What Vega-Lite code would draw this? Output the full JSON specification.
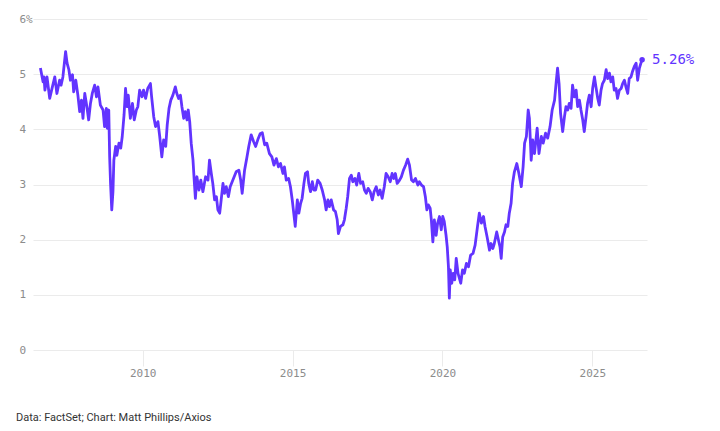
{
  "$schema": "https://vega.github.io/schema/vega-lite/v6.json",
  "width": 614,
  "height": 331,
  "autosize": {"type": "none"},
  "padding": {"left": 33, "top": 19, "right": 73, "bottom": 81},
  "background": "white",
  "title": {
    "text": "Data: FactSet; Chart: Matt Phillips/Axios",
    "orient": "bottom",
    "anchor": "start",
    "frame": "group",
    "dx": -17,
    "offset": 34,
    "font": "Roboto",
    "fontSize": 11,
    "fontWeight": "normal",
    "color": "#333333"
  },
  "data": {
    "values": [
      {"year": 2006.59, "yield": 5.11}, {"year": 2006.68, "yield": 4.86}, {"year": 2006.71, "yield": 4.95},
      {"year": 2006.74, "yield": 4.71}, {"year": 2006.81, "yield": 4.95}, {"year": 2006.90, "yield": 4.56},
      {"year": 2006.99, "yield": 4.77}, {"year": 2007.07, "yield": 4.95}, {"year": 2007.14, "yield": 4.65},
      {"year": 2007.23, "yield": 4.89}, {"year": 2007.28, "yield": 4.80}, {"year": 2007.34, "yield": 4.95},
      {"year": 2007.43, "yield": 5.41}, {"year": 2007.48, "yield": 5.20}, {"year": 2007.54, "yield": 5.08},
      {"year": 2007.59, "yield": 4.89}, {"year": 2007.66, "yield": 4.99}, {"year": 2007.70, "yield": 4.68},
      {"year": 2007.77, "yield": 4.89}, {"year": 2007.84, "yield": 4.62}, {"year": 2007.90, "yield": 4.32},
      {"year": 2007.96, "yield": 4.53}, {"year": 2008.01, "yield": 4.20}, {"year": 2008.07, "yield": 4.65},
      {"year": 2008.14, "yield": 4.41}, {"year": 2008.20, "yield": 4.17}, {"year": 2008.26, "yield": 4.47},
      {"year": 2008.32, "yield": 4.65}, {"year": 2008.40, "yield": 4.80}, {"year": 2008.46, "yield": 4.59},
      {"year": 2008.51, "yield": 4.77}, {"year": 2008.59, "yield": 4.44}, {"year": 2008.68, "yield": 4.35},
      {"year": 2008.73, "yield": 4.05}, {"year": 2008.79, "yield": 4.38}, {"year": 2008.82, "yield": 4.02},
      {"year": 2008.87, "yield": 4.35}, {"year": 2008.90, "yield": 3.50}, {"year": 2008.93, "yield": 3.02},
      {"year": 2008.97, "yield": 2.54}, {"year": 2009.01, "yield": 2.87}, {"year": 2009.04, "yield": 3.44},
      {"year": 2009.10, "yield": 3.69}, {"year": 2009.14, "yield": 3.53}, {"year": 2009.21, "yield": 3.75},
      {"year": 2009.27, "yield": 3.66}, {"year": 2009.32, "yield": 3.87}, {"year": 2009.38, "yield": 4.26},
      {"year": 2009.43, "yield": 4.74}, {"year": 2009.48, "yield": 4.41}, {"year": 2009.52, "yield": 4.62},
      {"year": 2009.59, "yield": 4.20}, {"year": 2009.66, "yield": 4.47}, {"year": 2009.72, "yield": 4.17},
      {"year": 2009.79, "yield": 4.35}, {"year": 2009.84, "yield": 4.41}, {"year": 2009.90, "yield": 4.71},
      {"year": 2009.98, "yield": 4.59}, {"year": 2010.03, "yield": 4.71}, {"year": 2010.10, "yield": 4.56},
      {"year": 2010.17, "yield": 4.74}, {"year": 2010.26, "yield": 4.83}, {"year": 2010.30, "yield": 4.59},
      {"year": 2010.37, "yield": 4.23}, {"year": 2010.43, "yield": 4.05}, {"year": 2010.51, "yield": 4.14},
      {"year": 2010.57, "yield": 3.87}, {"year": 2010.64, "yield": 3.50}, {"year": 2010.70, "yield": 3.81},
      {"year": 2010.77, "yield": 3.69}, {"year": 2010.82, "yield": 4.08}, {"year": 2010.88, "yield": 4.38},
      {"year": 2010.94, "yield": 4.53}, {"year": 2011.01, "yield": 4.62}, {"year": 2011.09, "yield": 4.77},
      {"year": 2011.14, "yield": 4.65}, {"year": 2011.20, "yield": 4.56}, {"year": 2011.26, "yield": 4.62},
      {"year": 2011.31, "yield": 4.41}, {"year": 2011.37, "yield": 4.20}, {"year": 2011.42, "yield": 4.32},
      {"year": 2011.48, "yield": 4.17}, {"year": 2011.52, "yield": 4.35}, {"year": 2011.57, "yield": 4.14},
      {"year": 2011.62, "yield": 3.75}, {"year": 2011.68, "yield": 3.44}, {"year": 2011.72, "yield": 3.08},
      {"year": 2011.76, "yield": 2.75}, {"year": 2011.81, "yield": 3.14}, {"year": 2011.88, "yield": 2.90},
      {"year": 2011.94, "yield": 3.08}, {"year": 2012.01, "yield": 2.87}, {"year": 2012.10, "yield": 3.14},
      {"year": 2012.18, "yield": 3.08}, {"year": 2012.23, "yield": 3.44}, {"year": 2012.29, "yield": 3.20},
      {"year": 2012.34, "yield": 3.02}, {"year": 2012.40, "yield": 2.72}, {"year": 2012.46, "yield": 2.78},
      {"year": 2012.51, "yield": 2.54}, {"year": 2012.57, "yield": 2.48}, {"year": 2012.62, "yield": 2.72},
      {"year": 2012.68, "yield": 3.02}, {"year": 2012.73, "yield": 2.84}, {"year": 2012.79, "yield": 2.96},
      {"year": 2012.86, "yield": 2.78}, {"year": 2012.92, "yield": 2.96}, {"year": 2013.01, "yield": 3.08},
      {"year": 2013.12, "yield": 3.23}, {"year": 2013.21, "yield": 3.26}, {"year": 2013.27, "yield": 3.08},
      {"year": 2013.32, "yield": 2.84}, {"year": 2013.40, "yield": 3.26}, {"year": 2013.48, "yield": 3.50},
      {"year": 2013.54, "yield": 3.69}, {"year": 2013.62, "yield": 3.90}, {"year": 2013.70, "yield": 3.78},
      {"year": 2013.77, "yield": 3.69}, {"year": 2013.84, "yield": 3.81}, {"year": 2013.92, "yield": 3.92},
      {"year": 2013.99, "yield": 3.94}, {"year": 2014.07, "yield": 3.72}, {"year": 2014.14, "yield": 3.75},
      {"year": 2014.23, "yield": 3.56}, {"year": 2014.31, "yield": 3.50}, {"year": 2014.38, "yield": 3.35},
      {"year": 2014.46, "yield": 3.47}, {"year": 2014.53, "yield": 3.32}, {"year": 2014.60, "yield": 3.38},
      {"year": 2014.68, "yield": 3.20}, {"year": 2014.73, "yield": 3.32}, {"year": 2014.79, "yield": 3.08},
      {"year": 2014.87, "yield": 3.11}, {"year": 2014.93, "yield": 2.96}, {"year": 2014.99, "yield": 2.72},
      {"year": 2015.04, "yield": 2.48}, {"year": 2015.09, "yield": 2.24}, {"year": 2015.16, "yield": 2.72},
      {"year": 2015.21, "yield": 2.48}, {"year": 2015.27, "yield": 2.66}, {"year": 2015.32, "yield": 2.75},
      {"year": 2015.38, "yield": 3.02}, {"year": 2015.43, "yield": 3.20}, {"year": 2015.50, "yield": 3.23},
      {"year": 2015.54, "yield": 3.02}, {"year": 2015.60, "yield": 2.87}, {"year": 2015.66, "yield": 3.05},
      {"year": 2015.71, "yield": 2.90}, {"year": 2015.77, "yield": 2.90}, {"year": 2015.84, "yield": 3.08},
      {"year": 2015.92, "yield": 3.02}, {"year": 2015.99, "yield": 2.90}, {"year": 2016.07, "yield": 2.72},
      {"year": 2016.12, "yield": 2.54}, {"year": 2016.18, "yield": 2.72}, {"year": 2016.23, "yield": 2.60},
      {"year": 2016.29, "yield": 2.72}, {"year": 2016.37, "yield": 2.54}, {"year": 2016.43, "yield": 2.51},
      {"year": 2016.49, "yield": 2.36}, {"year": 2016.53, "yield": 2.11}, {"year": 2016.60, "yield": 2.24},
      {"year": 2016.68, "yield": 2.27}, {"year": 2016.73, "yield": 2.36}, {"year": 2016.79, "yield": 2.57},
      {"year": 2016.84, "yield": 2.78}, {"year": 2016.90, "yield": 3.11}, {"year": 2016.96, "yield": 3.17},
      {"year": 2017.01, "yield": 3.05}, {"year": 2017.08, "yield": 3.11}, {"year": 2017.14, "yield": 2.99},
      {"year": 2017.21, "yield": 3.20}, {"year": 2017.27, "yield": 3.02}, {"year": 2017.34, "yield": 3.05},
      {"year": 2017.40, "yield": 2.90}, {"year": 2017.46, "yield": 2.84}, {"year": 2017.52, "yield": 2.93},
      {"year": 2017.59, "yield": 2.87}, {"year": 2017.66, "yield": 2.72}, {"year": 2017.72, "yield": 2.87},
      {"year": 2017.79, "yield": 2.96}, {"year": 2017.86, "yield": 2.81}, {"year": 2017.92, "yield": 2.90},
      {"year": 2017.99, "yield": 2.75}, {"year": 2018.06, "yield": 2.96}, {"year": 2018.12, "yield": 3.20},
      {"year": 2018.19, "yield": 3.14}, {"year": 2018.26, "yield": 3.05}, {"year": 2018.32, "yield": 3.20},
      {"year": 2018.38, "yield": 3.11}, {"year": 2018.43, "yield": 3.20}, {"year": 2018.49, "yield": 3.02},
      {"year": 2018.57, "yield": 3.08}, {"year": 2018.63, "yield": 3.14}, {"year": 2018.70, "yield": 3.26},
      {"year": 2018.77, "yield": 3.35}, {"year": 2018.84, "yield": 3.46}, {"year": 2018.90, "yield": 3.35},
      {"year": 2018.97, "yield": 3.08}, {"year": 2019.03, "yield": 3.05}, {"year": 2019.10, "yield": 3.11},
      {"year": 2019.18, "yield": 2.99}, {"year": 2019.23, "yield": 3.05}, {"year": 2019.30, "yield": 2.99},
      {"year": 2019.37, "yield": 2.96}, {"year": 2019.43, "yield": 2.78}, {"year": 2019.48, "yield": 2.54},
      {"year": 2019.53, "yield": 2.63}, {"year": 2019.59, "yield": 2.57}, {"year": 2019.63, "yield": 2.36},
      {"year": 2019.68, "yield": 1.96}, {"year": 2019.73, "yield": 2.36}, {"year": 2019.79, "yield": 2.08},
      {"year": 2019.84, "yield": 2.30}, {"year": 2019.90, "yield": 2.42}, {"year": 2019.96, "yield": 2.18},
      {"year": 2020.01, "yield": 2.42}, {"year": 2020.06, "yield": 2.33}, {"year": 2020.12, "yield": 2.08},
      {"year": 2020.16, "yield": 1.87}, {"year": 2020.20, "yield": 1.51}, {"year": 2020.23, "yield": 0.94},
      {"year": 2020.26, "yield": 1.45}, {"year": 2020.31, "yield": 1.21}, {"year": 2020.36, "yield": 1.39},
      {"year": 2020.41, "yield": 1.27}, {"year": 2020.46, "yield": 1.66}, {"year": 2020.52, "yield": 1.39},
      {"year": 2020.61, "yield": 1.21}, {"year": 2020.67, "yield": 1.45}, {"year": 2020.73, "yield": 1.39},
      {"year": 2020.80, "yield": 1.57}, {"year": 2020.87, "yield": 1.51}, {"year": 2020.94, "yield": 1.72},
      {"year": 2021.02, "yield": 1.75}, {"year": 2021.09, "yield": 1.90}, {"year": 2021.17, "yield": 2.24},
      {"year": 2021.23, "yield": 2.48}, {"year": 2021.30, "yield": 2.30}, {"year": 2021.37, "yield": 2.42},
      {"year": 2021.42, "yield": 2.24}, {"year": 2021.49, "yield": 2.05}, {"year": 2021.57, "yield": 1.81},
      {"year": 2021.62, "yield": 1.93}, {"year": 2021.68, "yield": 1.84}, {"year": 2021.73, "yield": 1.93},
      {"year": 2021.81, "yield": 2.14}, {"year": 2021.87, "yield": 1.99}, {"year": 2021.92, "yield": 1.87},
      {"year": 2021.96, "yield": 1.66}, {"year": 2022.01, "yield": 2.05}, {"year": 2022.07, "yield": 2.14},
      {"year": 2022.12, "yield": 2.27}, {"year": 2022.18, "yield": 2.24}, {"year": 2022.23, "yield": 2.48},
      {"year": 2022.29, "yield": 2.66}, {"year": 2022.34, "yield": 3.02}, {"year": 2022.40, "yield": 3.23},
      {"year": 2022.48, "yield": 3.38}, {"year": 2022.55, "yield": 3.20}, {"year": 2022.63, "yield": 2.96},
      {"year": 2022.69, "yield": 3.32}, {"year": 2022.74, "yield": 3.75}, {"year": 2022.80, "yield": 3.87},
      {"year": 2022.86, "yield": 4.35}, {"year": 2022.90, "yield": 4.20}, {"year": 2022.96, "yield": 3.44},
      {"year": 2023.01, "yield": 3.81}, {"year": 2023.07, "yield": 3.56}, {"year": 2023.16, "yield": 4.02},
      {"year": 2023.22, "yield": 3.56}, {"year": 2023.30, "yield": 3.87}, {"year": 2023.36, "yield": 3.75},
      {"year": 2023.44, "yield": 3.93}, {"year": 2023.51, "yield": 3.84}, {"year": 2023.59, "yield": 4.05},
      {"year": 2023.66, "yield": 4.35}, {"year": 2023.74, "yield": 4.53}, {"year": 2023.80, "yield": 4.89},
      {"year": 2023.84, "yield": 5.11}, {"year": 2023.89, "yield": 4.83}, {"year": 2023.94, "yield": 4.29},
      {"year": 2024.01, "yield": 3.96}, {"year": 2024.07, "yield": 4.23}, {"year": 2024.12, "yield": 4.41},
      {"year": 2024.18, "yield": 4.35}, {"year": 2024.23, "yield": 4.47}, {"year": 2024.29, "yield": 4.38},
      {"year": 2024.34, "yield": 4.80}, {"year": 2024.40, "yield": 4.59}, {"year": 2024.46, "yield": 4.71},
      {"year": 2024.51, "yield": 4.41}, {"year": 2024.57, "yield": 4.53}, {"year": 2024.62, "yield": 4.35},
      {"year": 2024.68, "yield": 4.17}, {"year": 2024.73, "yield": 3.96}, {"year": 2024.79, "yield": 4.23},
      {"year": 2024.84, "yield": 4.47}, {"year": 2024.90, "yield": 4.62}, {"year": 2024.96, "yield": 4.41},
      {"year": 2025.01, "yield": 4.74}, {"year": 2025.07, "yield": 4.95}, {"year": 2025.12, "yield": 4.77},
      {"year": 2025.18, "yield": 4.56}, {"year": 2025.23, "yield": 4.44}, {"year": 2025.29, "yield": 4.71},
      {"year": 2025.34, "yield": 4.83}, {"year": 2025.40, "yield": 4.89}, {"year": 2025.46, "yield": 5.08},
      {"year": 2025.51, "yield": 4.92}, {"year": 2025.57, "yield": 5.02}, {"year": 2025.62, "yield": 4.86},
      {"year": 2025.68, "yield": 4.95}, {"year": 2025.73, "yield": 4.71}, {"year": 2025.79, "yield": 4.74},
      {"year": 2025.84, "yield": 4.56}, {"year": 2025.90, "yield": 4.71}, {"year": 2025.96, "yield": 4.74},
      {"year": 2026.01, "yield": 4.83}, {"year": 2026.07, "yield": 4.89}, {"year": 2026.12, "yield": 4.77},
      {"year": 2026.18, "yield": 4.65}, {"year": 2026.23, "yield": 4.92}, {"year": 2026.29, "yield": 4.95},
      {"year": 2026.34, "yield": 5.05}, {"year": 2026.40, "yield": 5.14}, {"year": 2026.46, "yield": 5.20},
      {"year": 2026.51, "yield": 4.89}, {"year": 2026.57, "yield": 5.11}, {"year": 2026.62, "yield": 5.20},
      {"year": 2026.66, "yield": 5.26}
    ]
  },
  "encoding": {
    "x": {
      "field": "year",
      "type": "quantitative",
      "scale": {"domain": [2006.343, 2026.823], "nice": false, "zero": false},
      "axis": {
        "title": null,
        "values": [2010, 2015, 2020, 2025],
        "format": "d",
        "grid": false,
        "domain": false,
        "ticks": true,
        "tickSize": 16,
        "tickColor": "#ebebeb",
        "tickWidth": 1,
        "labelPadding": 1,
        "labelFont": "DejaVu Sans Mono",
        "labelFontSize": 11,
        "labelColor": "#8c8c8c"
      }
    },
    "y": {
      "field": "yield",
      "type": "quantitative",
      "scale": {"domain": [0, 6], "nice": false},
      "axis": {
        "title": null,
        "values": [0, 1, 2, 3, 4, 5, 6],
        "labelExpr": "datum.value == 6 ? '6%' : datum.label",
        "grid": true,
        "gridColor": "#ebebeb",
        "gridWidth": 1,
        "domain": false,
        "ticks": false,
        "tickSize": 0,
        "labelAlign": "left",
        "labelPadding": 14,
        "labelFont": "DejaVu Sans Mono",
        "labelFontSize": 11,
        "labelColor": "#8c8c8c"
      }
    }
  },
  "layer": [
    {
      "mark": {"type": "line", "color": "#6234ff", "strokeWidth": 2.8, "strokeJoin": "round"}
    },
    {
      "transform": [{"filter": "datum.year == 2026.66"}],
      "mark": {"type": "circle", "color": "#6234ff", "size": 30, "opacity": 1}
    },
    {
      "transform": [{"filter": "datum.year == 2026.66"}],
      "mark": {
        "type": "text",
        "color": "#6234ff",
        "align": "left",
        "baseline": "middle",
        "dx": 10,
        "font": "DejaVu Sans Mono",
        "fontSize": 14
      },
      "encoding": {"text": {"value": "5.26%"}}
    }
  ],
  "config": {"view": {"stroke": null}}
}
